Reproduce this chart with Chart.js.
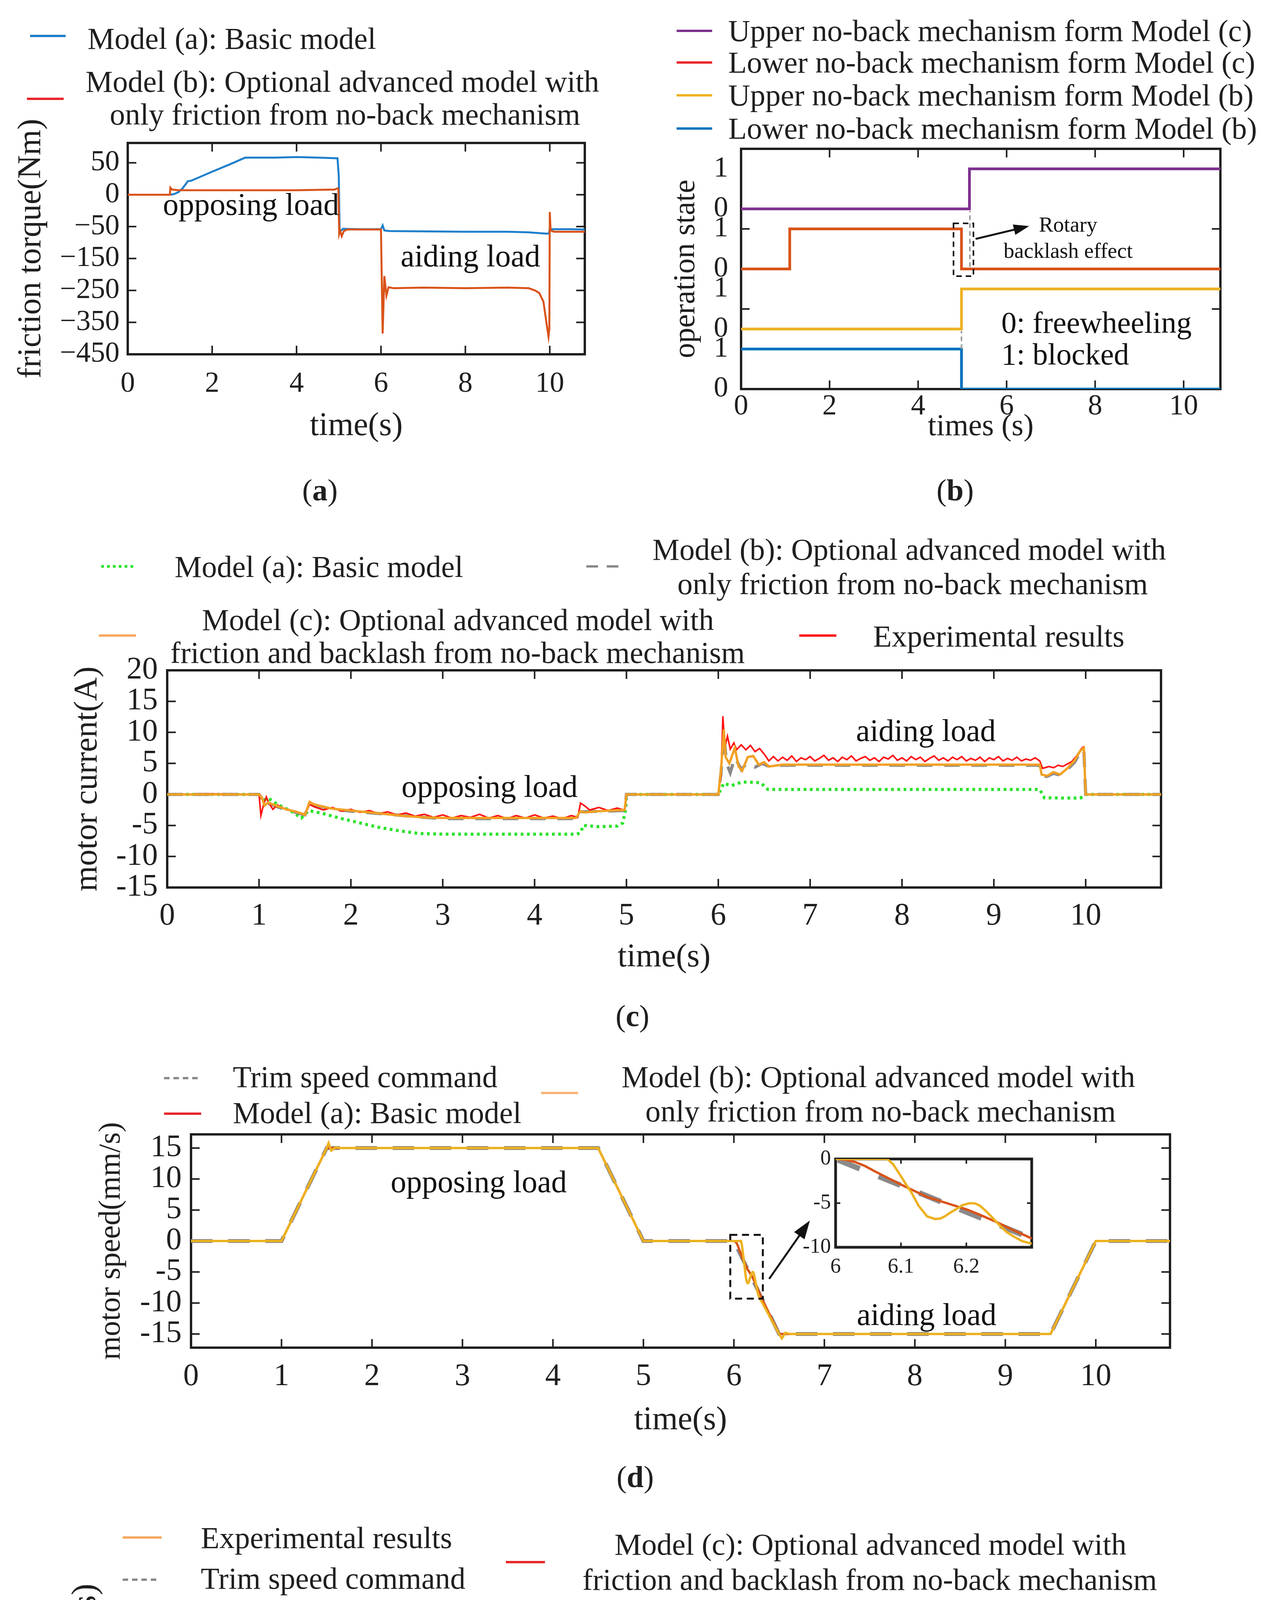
<!DOCTYPE html>
<html>
<head>
<meta charset="utf-8">
<script src="https://cdn.jsdelivr.net/npm/chart.js@4.4.1/dist/chart.umd.min.js"></script>
<style>
  body { margin: 0; background: #fff; }
  #page { position: relative; width: 3251px; height: 5104px; overflow: hidden; background: #fff;
          font-family: 'Liberation Serif', serif; color: #1f1f1f; }
  canvas { position: absolute; }
  .t { position: absolute; white-space: nowrap; line-height: 1; transform: translateY(-50%); }
  .cap { position: absolute; white-space: nowrap; line-height: 1; transform: translate(-50%, -50%); font-size: 78px; }
  svg { position: absolute; left: 0; top: 0; }
</style>
</head>
<body>
<div id="page"></div>
<script>
// ---------- data ----------

// (a) friction torque, Nm  [time s, value]
const aTickVals = [50, 0, -50, -150, -250, -350, -450];
const aBasic = [[0,0],[1.0,0],[1.1,1],[1.2,4],[1.3,10],[1.38,17],[1.42,21],[1.51,22],[2.0,36],[2.4,47],[2.78,58],[3.5,58],[4.0,59],[4.5,58],[4.97,57],[5.0,30],[5.02,-58],[5.05,-63],[5.1,-57],[5.5,-58],[6.0,-58],[6.04,-48],[6.08,-62],[6.2,-64],[7,-65],[8,-66],[9,-66],[9.5,-68],[9.9,-72],[9.98,-72],[10.0,-58],[10.5,-58],[10.83,-59]];
const aAdvB = [[0,0],[1.0,0],[1.01,11],[1.05,8],[1.2,7],[2,7],[3,7],[4,7],[4.9,8],[4.97,10],[4.99,9],[5.01,-72],[5.03,-62],[5.07,-80],[5.12,-64],[5.2,-59],[6.0,-59],[6.04,-385],[6.08,-205],[6.13,-266],[6.18,-240],[6.3,-243],[7,-241],[8,-243],[9,-241],[9.5,-243],[9.65,-250],[9.75,-258],[9.85,-285],[9.92,-350],[9.97,-395],[9.99,-370],[10.0,-27],[10.02,-62],[10.1,-66],[10.83,-66]];

// (b) operation state (0 freewheeling, 1 blocked)
const bUpperC = [[0,0],[5.16,0],[5.16,1],[10.83,1]];
const bLowerC = [[0,0],[1.1,0],[1.1,1],[4.98,1],[4.98,0],[10.83,0]];
const bUpperB = [[0,0],[4.98,0],[4.98,1],[10.83,1]];
const bLowerB = [[0,1],[4.98,1],[4.98,0],[10.83,0]];

// (c) motor current, A
const cModA = [[0,0],[1.0,0],[1.04,-1.0],[1.1,-0.6],[1.2,-1.6],[1.35,-2.7],[1.46,-3.8],[1.54,-2.6],[1.7,-3.1],[1.9,-3.9],[2.1,-4.6],[2.3,-5.3],[2.5,-5.8],[2.74,-6.3],[3.0,-6.4],[4.46,-6.4],[4.5,-6.2],[4.53,-5.0],[4.7,-5.2],[4.9,-5.1],[4.96,-4.6],[4.99,-2.5],[5.0,0],[6.0,0],[6.06,1.8],[6.14,1.4],[6.26,2.0],[6.46,1.9],[6.54,0.8],[9.5,0.8],[9.55,-0.55],[9.94,-0.6],[9.98,-0.2],[10.0,0],[10.83,0]];
const cModB = [[0,0],[1.0,0],[1.03,-0.6],[1.06,-1.9],[1.1,-1.4],[1.2,-2.0],[1.3,-2.5],[1.45,-3.1],[1.5,-3.3],[1.55,-1.4],[1.6,-1.7],[1.8,-2.4],[2.0,-2.7],[2.4,-3.2],[2.8,-3.7],[3.0,-3.9],[4.45,-3.9],[4.5,-2.8],[4.98,-2.6],[5.0,0],[6.0,0],[6.03,3.5],[6.06,9.8],[6.09,5],[6.13,3.5],[6.18,6.0],[6.25,4.0],[6.32,5.2],[6.4,4.4],[6.48,5.0],[6.55,4.5],[6.7,4.7],[9.5,4.7],[9.52,3.0],[9.58,2.9],[9.65,3.4],[9.72,3.1],[9.8,4.0],[9.88,5.2],[9.94,6.8],[9.98,7.3],[10.0,0],[10.83,0]];
const cModC = [[0,0],[1.0,0],[1.03,-0.5],[1.06,-1.8],[1.1,-1.3],[1.2,-1.9],[1.3,-2.4],[1.45,-3.0],[1.5,-3.3],[1.55,-1.2],[1.6,-1.6],[1.7,-2.0],[1.8,-2.3],[2.0,-2.6],[2.2,-2.9],[2.4,-3.2],[2.6,-3.5],[2.8,-3.7],[3.0,-3.8],[4.45,-3.8],[4.5,-2.7],[4.55,-2.9],[4.7,-2.7],[4.98,-2.5],[5.0,0],[6.0,0],[6.03,4],[6.06,10.5],[6.08,6],[6.12,5.0],[6.18,7.5],[6.22,4.5],[6.26,3.8],[6.32,6.0],[6.38,6.2],[6.44,4.8],[6.5,5.2],[6.55,4.5],[6.7,4.8],[9.5,4.8],[9.52,3.2],[9.58,3.0],[9.65,3.6],[9.72,3.2],[9.8,4.2],[9.88,5.5],[9.94,7.0],[9.98,7.5],[10.0,0],[10.83,0]];
const cExp = [[0,0],[0.5,0.1],[1.0,0],[1.02,-3.4],[1.05,-1.6],[1.08,-0.4],[1.1,-1.2],[1.15,-2.4],[1.2,-1.7],[1.3,-2.5],[1.4,-2.7],[1.5,-3.3],[1.55,-1.6],[1.6,-2.0],[1.7,-2.5],[1.8,-2.1],[1.9,-2.7],[2.0,-2.4],[2.1,-2.9],[2.2,-2.6],[2.3,-3.1],[2.4,-2.8],[2.5,-3.3],[2.6,-3.0],[2.7,-3.5],[2.8,-3.2],[2.9,-3.7],[3.0,-3.3],[3.1,-3.8],[3.2,-3.4],[3.3,-3.7],[3.4,-3.2],[3.5,-3.8],[3.6,-3.4],[3.7,-3.9],[3.8,-3.4],[3.9,-3.8],[4.0,-3.3],[4.1,-3.8],[4.2,-3.5],[4.3,-3.9],[4.4,-3.4],[4.47,-3.7],[4.5,-1.4],[4.55,-1.9],[4.6,-2.5],[4.7,-2.1],[4.8,-2.6],[4.9,-2.2],[4.97,-2.5],[4.99,-2.0],[5.0,0],[5.5,0],[6.0,0],[6.03,3.0],[6.05,12.6],[6.07,7.5],[6.1,9.4],[6.13,7.3],[6.17,8.3],[6.2,7.2],[6.25,8.0],[6.3,7.2],[6.35,7.9],[6.4,6.9],[6.45,7.4],[6.5,6.5],[6.55,5.4],[6.6,6.1],[6.65,5.4],[6.7,6.0],[6.75,5.5],[6.8,6.2],[6.85,5.3],[6.9,5.9],[6.95,5.6],[7.0,6.1],[7.05,5.4],[7.1,5.8],[7.15,6.3],[7.2,5.5],[7.25,5.9],[7.3,5.3],[7.35,6.0],[7.4,5.6],[7.45,6.2],[7.5,5.4],[7.55,5.8],[7.6,6.1],[7.65,5.5],[7.7,5.9],[7.75,5.3],[7.8,6.0],[7.85,5.7],[7.9,6.3],[7.95,5.5],[8.0,5.9],[8.05,5.4],[8.1,6.1],[8.15,5.6],[8.2,6.0],[8.25,5.3],[8.3,5.8],[8.35,6.2],[8.4,5.5],[8.45,5.9],[8.5,5.4],[8.55,6.0],[8.6,5.6],[8.65,6.1],[8.7,5.4],[8.75,5.8],[8.8,5.5],[8.85,6.0],[8.9,5.3],[8.95,5.9],[9.0,5.6],[9.05,6.1],[9.1,5.4],[9.15,5.8],[9.2,5.5],[9.25,6.0],[9.3,5.4],[9.35,5.7],[9.4,5.5],[9.45,5.9],[9.5,5.4],[9.53,4.2],[9.6,4.5],[9.65,4.3],[9.7,4.7],[9.75,4.5],[9.8,4.9],[9.85,5.3],[9.9,6.2],[9.95,7.3],[9.97,7.6],[9.98,7.0],[10.0,0],[10.5,0],[10.83,0]];

// (d), (e) motor speed, mm/s
const speedCmd = [[0,0],[1,0],[1.5,15],[4.5,15],[5,0],[6,0],[6.5,-15],[9.5,-15],[10,0],[10.83,0]];
const dModA = [[0,0],[1,0],[1.5,15],[4.5,15],[5,0],[6,0],[6.015,-0.08],[6.03,-0.35],[6.045,-0.8],[6.06,-1.4],[6.08,-2.15],[6.1,-2.9],[6.12,-3.6],[6.14,-4.3],[6.17,-5.0],[6.2,-5.7],[6.22,-6.3],[6.245,-7.1],[6.27,-8.0],[6.3,-9.0],[6.5,-15],[9.5,-15],[10,0],[10.83,0]];
const dModB = [[0,0],[1,0],[1.5,15],[1.52,15.8],[1.55,14.6],[1.6,15.1],[1.65,15],[4.5,15],[5,0],[6,0],[6.079,0],[6.088,-0.6],[6.096,-1.5],[6.108,-2.9],[6.116,-3.8],[6.127,-5.3],[6.14,-6.5],[6.152,-6.8],[6.16,-6.75],[6.167,-6.5],[6.175,-6.1],[6.184,-5.7],[6.195,-5.2],[6.206,-5.0],[6.214,-5.05],[6.221,-5.3],[6.23,-5.9],[6.238,-6.5],[6.252,-7.6],[6.262,-8.3],[6.273,-8.8],[6.285,-9.3],[6.3,-9.6],[6.5,-15],[6.53,-15.7],[6.57,-14.8],[6.62,-15],[9.5,-15],[10,0],[10.83,0]];
const eModC = [[0,0],[1,0],[1.5,15],[4.5,15],[4.949,1.4],[4.989,0.33],[4.997,0.1],[5.096,-5.95],[5.134,0.07],[5.145,-0.05],[5.2,-0.05],[5.282,0],[6.0,0],[6.075,0],[6.086,-0.7],[6.1,-1.8],[6.111,-3.3],[6.119,-4.4],[6.127,-5.4],[6.138,-6.3],[6.151,-6.7],[6.163,-6.6],[6.177,-6.1],[6.19,-5.5],[6.208,-5.0],[6.221,-5.2],[6.234,-6.0],[6.248,-7.1],[6.262,-8.2],[6.278,-9.2],[6.299,-9.8],[6.5,-15],[9.5,-15],[10,0],[10.83,0]];
const eExp = [[0,0],[0.2,0.1],[0.4,-0.1],[0.6,0.1],[0.8,-0.1],[1.0,0],[1.25,7.4],[1.5,15.0],[1.52,15.7],[1.56,14.7],[1.6,15.3],[1.7,14.8],[1.8,15.2],[1.9,14.9],[2.0,15.3],[2.1,14.7],[2.2,15.1],[2.3,14.8],[2.4,15.3],[2.5,14.9],[2.6,15.2],[2.7,14.7],[2.8,15.1],[2.9,14.9],[3.0,15.3],[3.1,14.8],[3.2,15.2],[3.3,14.9],[3.4,15.3],[3.5,14.8],[3.6,15.1],[3.7,14.9],[3.8,15.2],[3.9,14.8],[4.0,15.2],[4.1,14.9],[4.2,15.3],[4.3,14.8],[4.4,15.1],[4.5,15.0],[4.6,11.8],[4.7,9.1],[4.8,5.9],[4.9,3.2],
  [4.949,1.46],[4.964,1.46],[4.966,0.92],[4.972,0.69],[4.986,0.69],[4.989,-0.85],[5.003,-0.85],[5.005,-1.56],[5.017,-1.92],[5.022,-2.27],[5.031,-2.87],[5.039,-3.22],[5.05,-3.58],[5.061,-4.17],[5.073,-4.88],[5.087,-4.94],[5.089,-4.53],[5.103,-4.53],[5.106,-1.45],[5.115,-1.03],[5.12,-1.03],[5.122,0.81],[5.152,0.87],[5.157,-0.32],[5.162,-0.5],[5.173,-0.5],[5.196,-0.32],[5.21,-0.14],[5.224,0.07],[5.243,0],[5.282,0],
  [5.4,0.1],[5.6,-0.1],[5.8,0.1],[5.95,0],
  [6.0,0],[6.029,0],[6.032,-0.35],[6.034,-0.2],[6.077,-0.15],[6.078,-2.6],[6.084,-3.0],[6.09,-3.3],[6.097,-4.5],[6.112,-4.5],[6.116,-4.2],[6.125,-3.9],[6.133,-4.0],[6.141,-3.5],[6.147,-3.5],[6.151,-3.7],[6.156,-4.1],[6.161,-4.5],[6.166,-5.0],[6.171,-5.7],[6.175,-5.8],[6.179,-5.4],[6.183,-5.8],[6.188,-6.2],[6.199,-6.3],[6.21,-6.4],[6.223,-6.7],[6.237,-7.1],[6.251,-7.5],[6.264,-7.9],[6.273,-8.5],[6.281,-8.8],[6.292,-8.8],[6.299,-9.6],
  [6.4,-12.1],[6.5,-15.0],[6.52,-15.6],[6.56,-14.7],[6.6,-15.2],[6.7,-14.8],[6.8,-15.3],[6.9,-14.9],[7.0,-15.2],[7.1,-14.7],[7.2,-15.1],[7.3,-14.8],[7.4,-15.3],[7.5,-14.9],[7.6,-15.2],[7.7,-14.8],[7.8,-15.1],[7.9,-14.9],[8.0,-15.3],[8.1,-14.8],[8.2,-15.2],[8.3,-14.9],[8.4,-15.3],[8.5,-14.8],[8.6,-15.1],[8.7,-14.9],[8.8,-15.2],[8.9,-14.8],[9.0,-15.2],[9.1,-14.9],[9.2,-15.3],[9.3,-14.8],[9.4,-15.1],[9.5,-15.0],[9.75,-7.4],[10.0,0],[10.02,1.0],[10.05,0.1],[10.2,-0.1],[10.4,0.1],[10.6,-0.1],[10.83,0]];

// tick values
const xTicks2 = [0, 2, 4, 6, 8, 10];
const xTicks1 = [0, 1, 2, 3, 4, 5, 6, 7, 8, 9, 10];
const bYTicks = [0, 1, 1.5, 2.5, 3, 4, 4.5, 5.5];
const cYTicks = [-15, -10, -5, 0, 5, 10, 15, 20];
const spYTicks = [-15, -10, -5, 0, 5, 10, 15];

// ---------- drawing ----------
const FONT = 'Liberation Serif';
const INK = '#1f1f1f';
const BLUE = '#1F7FCB', ORANGE = '#D95319', YELLOW = '#EDB120', PURPLE = '#7E2F8E';
const GREY = '#8a8a8a', GREEN = '#2BE32B', RED = '#FF1010', LORANGE = '#F2A024';
const page = document.getElementById('page');

// equally spaced ticks of panel (a) carry uneven labels
function aPos(v) {
  const t = aTickVals;
  if (v >= t[0]) return 6 + (v - t[0]) / (t[0] - t[1]);
  for (let i = 0; i < t.length - 1; i++) {
    if (v >= t[i + 1]) return 6 - i - (t[i] - v) / (t[i] - t[i + 1]);
  }
  return 0;
}
const neg = s => String(s).replace('-', '\u2212');

const mbox = {
  id: 'mbox',
  beforeDatasetsDraw(chart, args, o) {
    const { ctx, chartArea: a, scales: { x, y } } = chart;
    ctx.save();
    if (o.fill) { ctx.fillStyle = '#fff'; ctx.fillRect(a.left, a.top, a.width, a.height); }
    ctx.strokeStyle = INK;
    ctx.lineWidth = o.tw;
    ctx.beginPath();
    (o.xt || x.ticks.map(t => t.value)).forEach(v => {
      const p = x.getPixelForValue(v);
      ctx.moveTo(p, a.bottom); ctx.lineTo(p, a.bottom - o.len);
      ctx.moveTo(p, a.top); ctx.lineTo(p, a.top + o.len);
    });
    (o.yt || y.ticks.map(t => t.value)).forEach(v => {
      const p = y.getPixelForValue(v);
      ctx.moveTo(a.left, p); ctx.lineTo(a.left + o.len, p);
      ctx.moveTo(a.right, p); ctx.lineTo(a.right - o.len, p);
    });
    ctx.stroke();
    ctx.lineWidth = o.bw;
    ctx.strokeRect(a.left, a.top, a.width, a.height);
    ctx.restore();
  }
};

function drawArrow(ctx, x0, y0, x1, y1, head, w) {
  const ang = Math.atan2(y1 - y0, x1 - x0);
  ctx.lineWidth = w;
  ctx.beginPath();
  ctx.moveTo(x0, y0);
  ctx.lineTo(x1 - head * 0.8 * Math.cos(ang), y1 - head * 0.8 * Math.sin(ang));
  ctx.stroke();
  ctx.beginPath();
  ctx.moveTo(x1, y1);
  ctx.lineTo(x1 - head * Math.cos(ang - 0.33), y1 - head * Math.sin(ang - 0.33));
  ctx.lineTo(x1 - head * Math.cos(ang + 0.33), y1 - head * Math.sin(ang + 0.33));
  ctx.closePath();
  ctx.fill();
}

const notes = {
  id: 'notes',
  afterDatasetsDraw(chart, args, o) {
    const { ctx, scales: { x, y } } = chart;
    const px = v => x.getPixelForValue(v), py = v => y.getPixelForValue(v);
    ctx.save();
    ctx.strokeStyle = '#111'; ctx.fillStyle = '#111';
    (o.vlines || []).forEach(l => {
      ctx.strokeStyle = '#9a9a9a'; ctx.lineWidth = 4; ctx.setLineDash([12, 8]);
      ctx.beginPath(); ctx.moveTo(px(l.x), py(l.y0)); ctx.lineTo(px(l.x), py(l.y1)); ctx.stroke();
    });
    ctx.strokeStyle = '#111';
    (o.boxes || []).forEach(b => {
      ctx.lineWidth = b.w || 5; ctx.setLineDash(b.dash || [18, 12]);
      ctx.strokeRect(px(b.x0), py(b.y0), px(b.x1) - px(b.x0), py(b.y1) - py(b.y0));
    });
    ctx.setLineDash([]);
    (o.arrows || []).forEach(a => drawArrow(ctx, px(a.x0), py(a.y0), px(a.x1), py(a.y1), a.head || 50, a.w || 5));
    (o.texts || []).forEach(t => {
      ctx.font = `${t.size || 80}px "${FONT}"`;
      ctx.textAlign = t.align || 'center'; ctx.textBaseline = 'middle';
      ctx.fillText(t.text, px(t.x), py(t.y));
    });
    ctx.restore();
  }
};

function line(pairs, color, width, extra) {
  return Object.assign({
    data: pairs.map(([x, y]) => ({ x, y })),
    borderColor: color, borderWidth: width, pointRadius: 0, tension: 0, fill: false
  }, extra || {});
}

function makeChart(g, datasets, o) {
  const top = g.T - g.padTop;
  const c = document.createElement('canvas');
  c.width = g.R + g.padRight - g.left;
  c.height = g.bottom - top;
  c.style.left = g.left + 'px';
  c.style.top = top + 'px';
  page.appendChild(c);
  const fs = o.fs || 72;
  return new Chart(c, {
    type: 'line',
    data: { datasets },
    plugins: [mbox, notes],
    options: {
      responsive: false, animation: false, devicePixelRatio: 1, events: [],
      layout: { padding: { top: g.padTop, right: g.padRight, left: 0, bottom: 0 } },
      plugins: {
        legend: { display: false }, tooltip: { enabled: false },
        mbox: { fill: !!o.inset, len: o.inset ? 12 : 22, tw: 4, bw: o.inset ? 7 : 6, xt: o.boxXt, yt: o.boxYt },
        notes: o.notes || {}
      },
      scales: {
        x: {
          type: 'linear', min: o.xmin, max: o.xmax,
          afterBuildTicks: s => { s.ticks = o.xt.map(v => ({ value: v })); },
          afterFit: s => { s.height = g.bottom - g.B; },
          grid: { display: false, drawTicks: false }, border: { display: false },
          ticks: { font: { family: FONT, size: fs }, color: INK, padding: o.xpad, maxRotation: 0, autoSkip: false,
                   callback: o.xfmt || (v => String(v)) },
          title: o.xtitle ? { display: true, text: o.xtitle, color: INK, font: { family: FONT, size: o.xts }, padding: { top: 0, bottom: 0 } }
                          : { display: false }
        },
        y: {
          type: 'linear', min: o.ymin, max: o.ymax,
          afterBuildTicks: s => { s.ticks = o.yt.map(v => ({ value: v })); },
          afterFit: s => { s.width = g.L - g.left; },
          grid: { display: false, drawTicks: false }, border: { display: false },
          ticks: { font: { family: FONT, size: fs }, color: INK, padding: o.ypad, autoSkip: false,
                   callback: o.yfmt || (v => String(v)) },
          title: o.ytitle ? { display: true, text: o.ytitle, color: INK, font: { family: FONT, size: o.yts },
                              padding: { top: o.ytx - g.left - o.yts * 0.6, bottom: 0 } }
                          : { display: false }
        }
      }
    }
  });
}

// ---- (a)
makeChart({ L: 327, T: 366, R: 1497, B: 907, left: 0, bottom: 1142, padTop: 95, padRight: 40 }, [
  line(aAdvB.map(([t, v]) => [t, aPos(v)]), ORANGE, 5),
  line(aBasic.map(([t, v]) => [t, aPos(v)]), BLUE, 5)
], {
  fs: 74,
  xmin: 0, xmax: 10.83, xt: xTicks2, xpad: 32, xtitle: 'time(s)', xts: 84,
  ymin: 0, ymax: 6.62, yt: [0, 1, 2, 3, 4, 5, 6], ypad: 21, yfmt: v => neg(aTickVals[6 - v]),
  ytitle: 'friction torque(Nm)', yts: 84, ytx: 81,
  notes: { texts: [
    { text: 'opposing load', x: 2.92, y: aPos(-19) },
    { text: 'aiding load', x: 8.12, y: aPos(-149) }
  ] }
});

// ---- (b)
const bOffset = [4.5, 3, 1.5, 0];
makeChart({ L: 1897, T: 381, R: 3124, B: 996, left: 1700, bottom: 1140, padTop: 95, padRight: 60 }, [
  line(bUpperC.map(([t, v]) => [t, v + bOffset[0]]), PURPLE, 7),
  line(bLowerC.map(([t, v]) => [t, v + bOffset[1]]), ORANGE, 7),
  line(bUpperB.map(([t, v]) => [t, v + bOffset[2]]), YELLOW, 7),
  line(bLowerB.map(([t, v]) => [t, v + bOffset[3]]), '#0072BD', 7)
], {
  fs: 74,
  xmin: 0, xmax: 10.83, xt: xTicks2, xpad: 1, xtitle: 'times (s)', xts: 78,
  ymin: 0, ymax: 6, yt: bYTicks, ypad: 33, yfmt: v => (v % 1.5 === 0 ? '0' : '1'), boxYt: [2, 4],
  ytitle: 'operation state', yts: 78, ytx: 1757,
  notes: {
    vlines: [{ x: 5.17, y0: 3.05, y1: 4.45 }, { x: 4.98, y0: 1.0, y1: 1.45 }],
    boxes: [{ x0: 4.80, x1: 5.25, y0: 4.14, y1: 2.82, w: 4, dash: [14, 10] }],
    arrows: [{ x0: 5.30, y0: 3.75, x1: 6.51, y1: 4.07, head: 42, w: 5 }],
    texts: [
      { text: 'Rotary', x: 7.39, y: 4.07, size: 55 },
      { text: 'backlash effect', x: 7.39, y: 3.42, size: 55 },
      { text: '0: freewheeling', x: 5.88, y: 1.6, size: 78, align: 'left' },
      { text: '1: blocked', x: 5.88, y: 0.81, size: 78, align: 'left' }
    ]
  }
});

// ---- (c)
makeChart({ L: 428, T: 1716, R: 2972, B: 2272, left: 160, bottom: 2502, padTop: 95, padRight: 50 }, [
  line(cModC, LORANGE, 6),
  line(cExp, RED, 4),
  line(cModB, GREY, 8, { borderDash: [40, 30] }),
  line(cModA, GREEN, 8, { borderDash: [7, 9] })
], {
  fs: 80,
  xmin: 0, xmax: 10.82, xt: xTicks1, xpad: 26, xtitle: 'time(s)', xts: 84,
  ymin: -15, ymax: 20, yt: cYTicks, ypad: 24, ytitle: 'motor current(A)', yts: 84, ytx: 225,
  notes: { texts: [
    { text: 'opposing load', x: 3.51, y: 0.9 },
    { text: 'aiding load', x: 8.26, y: 9.9 }
  ] }
});

// ---- (d)
makeChart({ L: 489, T: 2904, R: 2995, B: 3450, left: 220, bottom: 3687, padTop: 95, padRight: 50 }, [
  line(dModB, YELLOW, 6),
  line(dModA, ORANGE, 6),
  line(speedCmd, GREY, 10, { borderDash: [55, 40] })
], {
  fs: 80,
  xmin: 0, xmax: 10.82, xt: xTicks1, xpad: 27, xtitle: 'time(s)', xts: 84,
  ymin: -17.2, ymax: 17.2, yt: spYTicks, ypad: 24, ytitle: 'motor speed(mm/s)', yts: 78, ytx: 286,
  notes: {
    boxes: [{ x0: 5.96, x1: 6.32, y0: 1.0, y1: -9.3 }],
    arrows: [{ x0: 6.39, y0: -6.1, x1: 6.84, y1: 3.3 }],
    texts: [
      { text: 'opposing load', x: 3.18, y: 9.2 },
      { text: 'aiding load', x: 8.13, y: -12.2 }
    ]
  }
});
// inset of (d)
makeChart({ L: 2139, T: 2967, R: 2641, B: 3193, left: 2029, bottom: 3290, padTop: 60, padRight: 20 }, [
  line(dModB, YELLOW, 6),
  line(dModA, ORANGE, 6),
  line(speedCmd, GREY, 14, { borderDash: [60, 52] })
], {
  inset: true, fs: 54,
  xmin: 6, xmax: 6.3, xt: [6, 6.1, 6.2], xpad: 18,
  ymin: -10, ymax: 0, yt: [-10, -5, 0], ypad: 12
});

// ---- (e)
makeChart({ L: 432, T: 4112, R: 3058, B: 4683, left: 150, bottom: 4921, padTop: 95, padRight: 50 }, [
  line(eExp, YELLOW, 5),
  line(eModC, ORANGE, 5),
  line(speedCmd, GREY, 10, { borderDash: [55, 40] })
], {
  fs: 80,
  xmin: 0, xmax: 10.84, xt: xTicks1, xpad: 26, xtitle: 'time(s)', xts: 88,
  ymin: -17.1, ymax: 17.1, yt: spYTicks, ypad: 28, yfmt: v => neg(v),
  ytitle: 'motor speed(mm/s)', yts: 88, ytx: 221,
  notes: {
    boxes: [{ x0: 4.87, x1: 5.21, y0: 2.6, y1: -6.4 }, { x0: 5.96, x1: 6.30, y0: 1.25, y1: -8.8 }],
    arrows: [{ x0: 4.87, y0: -2.1, x1: 4.05, y1: -0.06 }, { x0: 6.41, y0: -5.65, x1: 6.92, y1: 1.7 }],
    texts: [
      { text: 'opposing load', x: 3.01, y: 12.0, size: 84 },
      { text: 'aiding load', x: 8.16, y: -11.6, size: 84 }
    ]
  }
});
// insets of (e)
makeChart({ L: 883, T: 4284, R: 1414, B: 4523, left: 773, bottom: 4610, padTop: 60, padRight: 20 }, [
  line(eExp, YELLOW, 6),
  line(eModC, ORANGE, 6),
  line(speedCmd, GREY, 14, { borderDash: [56, 58] })
], {
  inset: true, fs: 54,
  xmin: 4.949, xmax: 5.282, xt: [5, 5.1, 5.2], xpad: 15,
  ymin: -6.54, ymax: 2, yt: [-6, -4, -2, 0, 2], ypad: 10
});
makeChart({ L: 2159, T: 4212, R: 2684, B: 4450, left: 2049, bottom: 4545, padTop: 60, padRight: 20 }, [
  line(eModC, ORANGE, 6),
  line(eExp, YELLOW, 5),
  line(speedCmd, GREY, 14, { borderDash: [56, 58] })
], {
  inset: true, fs: 54,
  xmin: 6, xmax: 6.298, xt: [6, 6.1, 6.2], xpad: 21,
  ymin: -10, ymax: 0, yt: [-10, -5, 0], ypad: 11
});

// ---------- legends and captions ----------
const NS = 'http://www.w3.org/2000/svg';
const svg = document.createElementNS(NS, 'svg');
svg.setAttribute('width', 3251); svg.setAttribute('height', 5104);

function txt(s, x, cy, size) {
  const d = document.createElement('div');
  d.className = 't'; d.style.left = x + 'px'; d.style.top = cy + 'px'; d.style.fontSize = (size || 78) + 'px';
  d.textContent = s; page.appendChild(d);
}
function sample(x0, x1, y, color, w, dash) {
  const l = document.createElementNS(NS, 'line');
  l.setAttribute('x1', x0); l.setAttribute('x2', x1); l.setAttribute('y1', y); l.setAttribute('y2', y);
  l.setAttribute('stroke', color); l.setAttribute('stroke-width', w || 6);
  if (dash) l.setAttribute('stroke-dasharray', dash);
  svg.appendChild(l);
}
function caption(letter, cx, cy) {
  const d = document.createElement('div');
  d.className = 'cap'; d.style.left = cx + 'px'; d.style.top = cy + 'px';
  d.innerHTML = '(<b>' + letter + '</b>)'; page.appendChild(d);
}

// (a)
sample(77, 168, 92, BLUE); txt('Model (a): Basic model', 224, 99);
sample(69, 163, 253, '#E8262A');
txt('Model (b): Optional advanced model with', 219, 209);
txt('only friction from no-back mechanism', 281, 293);
// (b)
sample(1732, 1823, 79, PURPLE); txt('Upper no-back mechanism form Model (c)', 1864, 79);
sample(1732, 1823, 160, '#E8262A'); txt('Lower no-back mechanism form Model (c)', 1864, 160);
sample(1732, 1823, 244, YELLOW); txt('Upper no-back mechanism form Model (b)', 1864, 244);
sample(1732, 1823, 329, '#0072BD'); txt('Lower no-back mechanism form Model (b)', 1864, 329);
// (c)
sample(259, 348, 1450, GREEN, 7, '7 8'); txt('Model (a): Basic model', 447, 1451);
sample(1501, 1595, 1450, GREY, 6, '30 22');
txt('Model (b): Optional advanced model with', 1670, 1407);
txt('only friction from no-back mechanism', 1734, 1495);
sample(253, 348, 1627, '#F6A860');
txt('Model (c): Optional advanced model with', 517, 1587);
txt('friction and backlash from no-back mechanism', 436, 1671);
sample(2046, 2141, 1627, RED); txt('Experimental results', 2235, 1629);
// (d)
sample(420, 507, 2760, GREY, 6, '14 10'); txt('Trim speed command', 596, 2757);
sample(420, 515, 2851, '#E8262A'); txt('Model (a): Basic model', 596, 2849);
sample(1385, 1480, 2798, '#F7B57A');
txt('Model (b): Optional advanced model with', 1591, 2757);
txt('only friction from no-back mechanism', 1652, 2845);
// (e)
sample(314, 414, 3936, '#F6A860'); txt('Experimental results', 514, 3937);
sample(314, 404, 4044, GREY, 6, '14 10'); txt('Trim speed command', 514, 4041);
sample(1295, 1395, 3999, '#E8262A');
txt('Model (c): Optional advanced model with', 1573, 3954);
txt('friction and backlash from no-back mechanism', 1491, 4044);

caption('a', 819, 1255);
caption('b', 2445, 1255);
caption('c', 1619, 2601);
caption('d', 1626, 3781);
caption('e', 1626, 5023);

page.appendChild(svg);
</script>
</body>
</html>
